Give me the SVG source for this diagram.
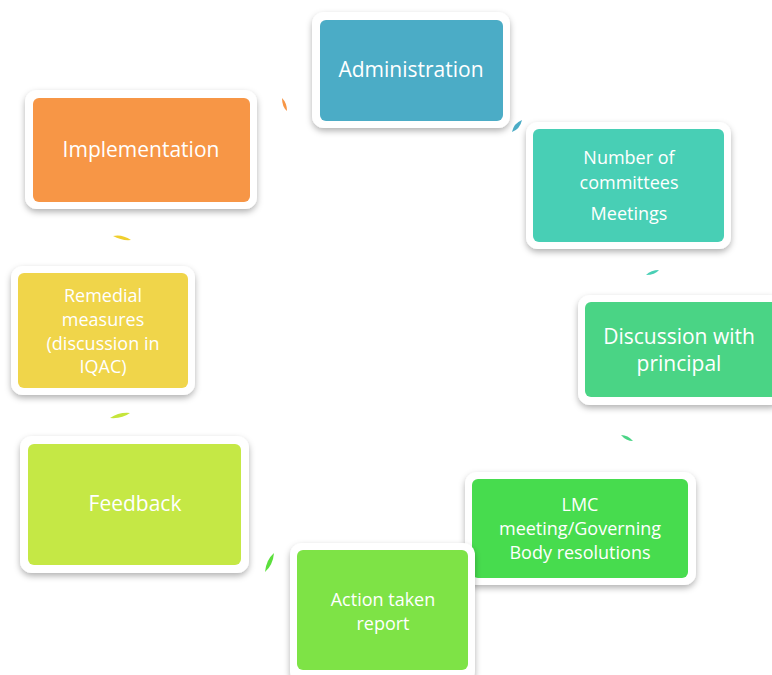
<svg xmlns="http://www.w3.org/2000/svg" width="772" height="675" viewBox="0 0 772 675">
<defs>
<filter id="sh" x="-10%" y="-10%" width="125%" height="130%">
<feDropShadow dx="0" dy="3" stdDeviation="3" flood-color="#000" flood-opacity="0.3"/>
</filter>
</defs>
<style>
.o{fill:#fff;filter:url(#sh)}
.t{font-family:"Open Sans","Liberation Sans",sans-serif;fill:#fff;text-anchor:middle}
.b{font-size:21px}
.s{font-size:18px}
</style>
<rect width="772" height="675" fill="#fff"/>
<g id="connectors">
<path d="M282,98 Q287,103 287,111 Q282,107 282,98 Z" fill="#F79646"/>
<path d="M512,132 Q514,123 522,120 Q520,129 512,132 Z" fill="#4BACC6"/>
<path d="M646,275 Q651,270 659,270 Q655,275 646,275 Z" fill="#48CFB5"/>
<path d="M621,435 Q628,435 633,441 Q626,441 621,435 Z" fill="#4AD485"/>
<path d="M265,572 Q266,560 274,553 Q273,565 265,572 Z" fill="#5BDF3C"/>
<path d="M110,418 Q119,412 130,413 Q122,419 110,418 Z" fill="#C5E53A"/>
<path d="M113,236 Q122,234 131,240 Q122,241 113,236 Z" fill="#F0CF2E"/>
</g>
<g id="administration">
<rect class="o" x="312" y="12" width="198" height="116" rx="12"/>
<rect x="320" y="20" width="183" height="101" rx="6" fill="#4BACC6"/>
<text class="t b" x="411" y="77">Administration</text>
</g>
<g id="committees">
<rect class="o" x="526" y="122" width="205" height="127" rx="12"/>
<rect x="533" y="129" width="191" height="113" rx="6" fill="#48CFB5"/>
<text class="t s" x="629" y="164">Number of</text>
<text class="t s" x="629" y="189">committees</text>
<text class="t s" x="629" y="220">Meetings</text>
</g>
<g id="discussion">
<rect class="o" x="578" y="295" width="204" height="110" rx="12"/>
<rect x="585" y="302" width="195" height="95" rx="6" fill="#4AD485"/>
<text class="t b" x="679" y="344">Discussion with</text>
<text class="t b" x="679" y="371">principal</text>
</g>
<g id="lmc">
<rect class="o" x="465" y="472" width="231" height="113" rx="12"/>
<rect x="472" y="479" width="216" height="99" rx="6" fill="#47DC4E"/>
<text class="t s" x="580" y="511">LMC</text>
<text class="t s" x="580" y="535">meeting/Governing</text>
<text class="t s" x="580" y="559">Body resolutions</text>
</g>
<g id="action">
<rect class="o" x="290" y="543" width="185" height="140" rx="12"/>
<rect x="297" y="550" width="171" height="120" rx="6" fill="#7EE346"/>
<text class="t s" x="383" y="606">Action taken</text>
<text class="t s" x="383" y="630">report</text>
</g>
<g id="feedback">
<rect class="o" x="20" y="436" width="229" height="137" rx="12"/>
<rect x="28" y="444" width="213" height="121" rx="6" fill="#C5E845"/>
<text class="t b" x="135" y="511">Feedback</text>
</g>
<g id="remedial">
<rect class="o" x="11" y="266" width="184" height="129" rx="12"/>
<rect x="18" y="273" width="170" height="115" rx="6" fill="#F0D54A"/>
<text class="t s" x="103" y="302">Remedial</text>
<text class="t s" x="103" y="326">measures</text>
<text class="t s" x="103" y="350">(discussion in</text>
<text class="t s" x="103" y="373">IQAC)</text>
</g>
<g id="implementation">
<rect class="o" x="25" y="90" width="232" height="119" rx="12"/>
<rect x="33" y="98" width="217" height="104" rx="6" fill="#F79646"/>
<text class="t b" x="141" y="157">Implementation</text>
</g>
</svg>
